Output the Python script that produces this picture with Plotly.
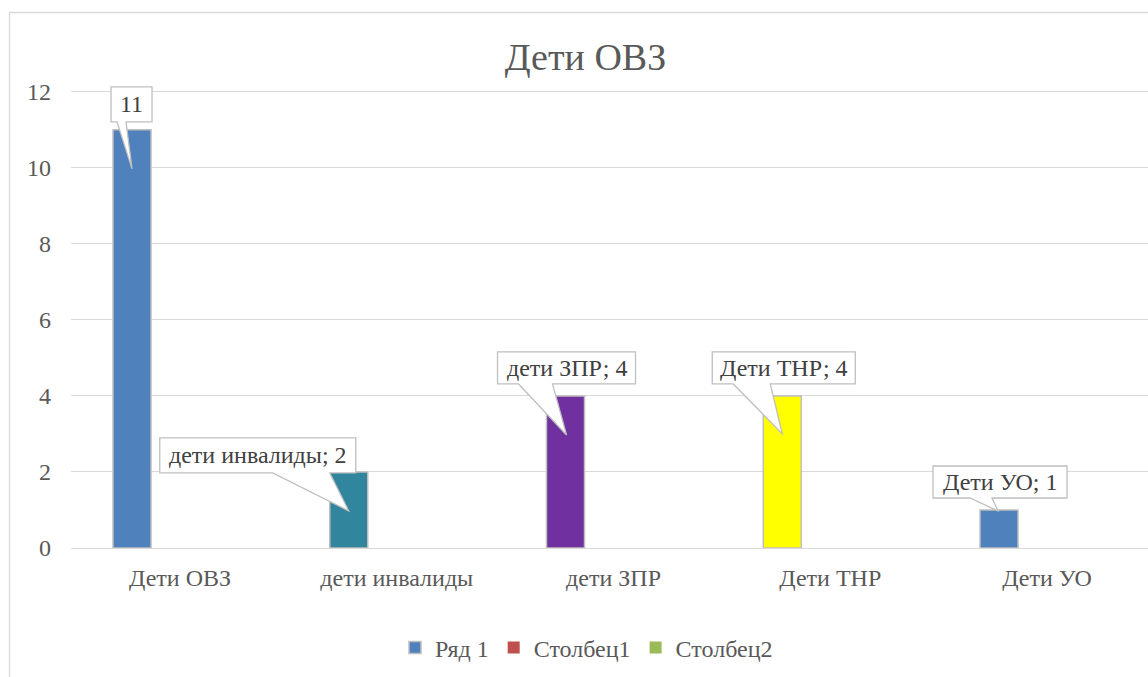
import plotly.graph_objects as go

# ---------------- data ----------------
categories = ["Дети ОВЗ", "дети инвалиды", "дети ЗПР", "Дети ТНР", "Дети УО"]
series_names = ["Ряд 1", "Столбец1", "Столбец2"]
ryad1 = [11, 2, 4, 4, 1]
stolbec1 = [None, None, None, None, None]
stolbec2 = [None, None, None, None, None]
label_show_category = [False, True, True, True, True]
y_ticks = [0, 2, 4, 6, 8, 10, 12]

# ---------------- styles ----------------
FONT = "Liberation Serif"
bar_colors = ["#4F81BD", "#31859C", "#7030A0", "#FFFF00", "#4F81BD"]
series_colors = ["#4F81BD", "#C0504D", "#9BBB59"]
GRID = "#D9D9D9"
TXT = "#595959"
LBL = "#404040"

W, H = 1148, 677
PX_PER_UNIT = 38.0
Y_TOP = 12.6
M_L, M_R, M_B = 71, 0, 129
M_T = int(round(92 - (Y_TOP - 12) * PX_PER_UNIT))
PX_PER_CAT = 216.75
x_lo = -0.503
x_hi = x_lo + (W - M_L - M_R) / PX_PER_CAT

# excel-like grouping: 3 series per category
n_series = 3
gap_width = 0.3355
group_gap = 0.2083
slot = (1 - gap_width) / n_series
bar_w = slot * (1 - group_gap)
series_offset = [-(1 - gap_width) / 2 + k * slot + slot * group_gap / 2 for k in range(n_series)]

# callout geometry (pixels, relative to bar top centre; y positive = up)
# (box_left, box_right, box_bottom, box_top, wedge_l, wedge_r, tip_dx, tip_dy)
callouts = [
    (-21, 20, 8, 43, -15, -6, 0, -39),
    (-189, 7, -1, 34, -76, -19, 0, -39),
    (-68, 70, 12, 44, -47, -13, 1, -39),
    (-70, 73, 12, 44, -49, -12, 0, -38),
    (-66, 68, 12, 44, -29, -7, -1, -1),
]

fig = go.Figure()
values = [ryad1, stolbec1, stolbec2]
for k, (name, vals) in enumerate(zip(series_names, values)):
    fig.add_trace(go.Bar(
        x=list(range(len(categories))),
        y=vals,
        name=name,
        width=bar_w,
        offset=series_offset[k],
        marker=dict(
            color=bar_colors if k == 0 else series_colors[k],
            line=dict(color="#BFBFBF", width=1.5 if k == 0 else 0),
        ),
        hoverinfo="skip",
    ))

shapes = []
annotations = []
for i, (cat, v) in enumerate(zip(categories, ryad1)):
    cx = i + series_offset[0] + bar_w / 2
    bl, br, bb, bt, wl, wr, tx, ty = callouts[i]
    path = (f"M{bl},{bt} L{br},{bt} L{br},{bb} L{wr},{bb} L{tx},{ty} "
            f"L{wl},{bb} L{bl},{bb} Z")
    shapes.append(dict(
        type="path", xref="x", yref="y", xsizemode="pixel", ysizemode="pixel",
        xanchor=cx, yanchor=v, path=path,
        fillcolor="white", line=dict(color="#BFBFBF", width=1.3), layer="above",
    ))
    text = f"{cat}; {v}" if label_show_category[i] else f"{v}"
    annotations.append(dict(
        x=cx, y=v, xref="x", yref="y", text=text, showarrow=False,
        xshift=(bl + br) / 2, yshift=(bb + bt) / 2,
        font=dict(family=FONT, size=24, color=LBL),
    ))

# outer chart frame
px2paper_x = lambda p: (p - M_L) / (W - M_L - M_R)
px2paper_y = lambda p: (H - M_B - p) / (H - M_T - M_B)
shapes.append(dict(
    type="rect", xref="paper", yref="paper",
    x0=px2paper_x(9.5), x1=px2paper_x(W + 20),
    y0=px2paper_y(H + 20), y1=px2paper_y(12.5),
    line=dict(color=GRID, width=1.3), fillcolor="rgba(0,0,0,0)", layer="below",
))

fig.update_layout(
    width=W, height=H,
    margin=dict(l=M_L, r=M_R, t=M_T, b=M_B),
    paper_bgcolor="white", plot_bgcolor="white",
    barmode="overlay",
    title=dict(text="Дети ОВЗ", x=585.5 / W, xref="container", xanchor="center",
               y=1 - 57 / H, yref="container", yanchor="middle",
               font=dict(family=FONT, size=38, color=TXT)),
    xaxis=dict(range=[x_lo, x_hi], tickmode="array",
               tickvals=list(range(len(categories))), ticktext=categories,
               showgrid=False, zeroline=False, showline=True, linecolor=GRID,
               linewidth=1.3, ticks="", ticklabelstandoff=8,
               tickfont=dict(family=FONT, size=24, color=TXT), fixedrange=True),
    yaxis=dict(range=[0, Y_TOP], tickmode="array", tickvals=y_ticks,
               showgrid=True, gridcolor=GRID, gridwidth=1.3, zeroline=False,
               ticks="", ticklabelstandoff=19,
               tickfont=dict(family=FONT, size=24, color=TXT), fixedrange=True),
    legend=dict(orientation="h", xref="container", yref="container",
                x=395 / W, xanchor="left", y=1 - 648 / H, yanchor="middle",
                font=dict(family=FONT, size=24, color=TXT),
                itemclick=False, itemdoubleclick=False),
    shapes=shapes,
    annotations=annotations,
)

fig.write_html("out.html", config={"displayModeBar": False},
               post_script="document.body.style.margin='0';")
